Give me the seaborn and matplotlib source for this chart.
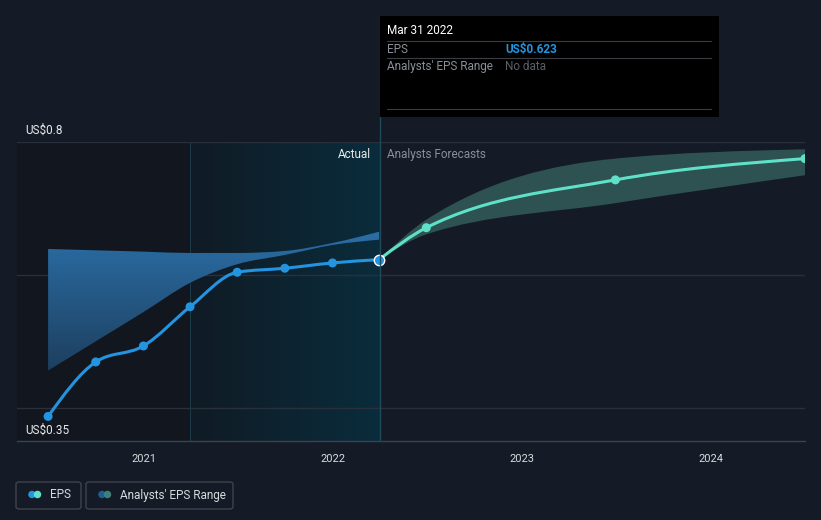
import numpy as np
import pandas as pd
import matplotlib
matplotlib.use("Agg")
import matplotlib.pyplot as plt
import matplotlib.dates as mdates
from matplotlib.patches import Rectangle, FancyBboxPatch, Ellipse, PathPatch
from matplotlib.path import Path
from matplotlib.lines import Line2D
from matplotlib.colors import LinearSegmentedColormap
import seaborn as sns

# ---------------- data ----------------
actual_dates = ["2020-06-30", "2020-09-30", "2020-12-31", "2021-03-31",
                "2021-06-30", "2021-09-30", "2021-12-31", "2022-03-31"]
eps_actual = [0.387, 0.469, 0.493, 0.552, 0.604, 0.610, 0.618, 0.623]
past_range_high = [0.639, 0.637, 0.635, 0.633, 0.633, 0.636, 0.648, 0.665]
past_range_low = [0.456, 0.500, 0.544, 0.588, 0.616, 0.630, 0.645, 0.653]

forecast_dates = ["2022-03-31", "2022-06-30", "2023-06-30", "2024-06-30"]
eps_forecast = [0.623, 0.671, 0.743, 0.775]
forecast_low = [0.623, 0.661, 0.708, 0.750]
forecast_high = [0.623, 0.683, 0.775, 0.789]

y_tick_labels = ["US$0.35", "US$0.8"]
grid_values = [0.4, 0.6, 0.8]
year_ticks = ["2021", "2022", "2023", "2024"]

tooltip_date = "Mar 31 2022"
tooltip_eps = "US$0.623"
tooltip_range = "No data"

# ---------------- style ----------------
BG = "#151b26"
BLUE = "#2394df"
TURQ = "#5fe0c8"
FONT = ["Roboto", "DejaVu Sans"]

sns.set_theme(style="dark")
plt.rcParams["font.family"] = FONT

W, H = 821, 520
fig = plt.figure(figsize=(W / 100, H / 100), dpi=100, facecolor=BG)

def fx(px):
    return px / W

def fy(py):
    return 1 - py / H

ax = fig.add_axes([fx(17), fy(441), fx(805) - fx(17), fy(142) - fy(441)])
ax.set_facecolor(BG)

a_df = pd.DataFrame({"date": pd.to_datetime(actual_dates), "eps": eps_actual,
                     "lo": past_range_low, "hi": past_range_high})
f_df = pd.DataFrame({"date": pd.to_datetime(forecast_dates), "eps": eps_forecast,
                     "lo": forecast_low, "hi": forecast_high})

x_left = pd.Timestamp("2020-05-01")
x_right = pd.Timestamp("2024-06-30")
ymin, ymax = 0.35, 0.8
ax.set_xlim(x_left, x_right)
ax.set_ylim(ymin, ymax)


# monotone cubic (d3 curveMonotoneX style) rendered as Bezier path segments
def _tangents(x, y):
    x = np.asarray(x, float)
    y = np.asarray(y, float)
    n = len(x)
    h = np.diff(x)
    s = np.diff(y) / h
    t = np.zeros(n)
    for i in range(1, n - 1):
        p = (s[i - 1] * h[i] + s[i] * h[i - 1]) / (h[i - 1] + h[i])
        t[i] = (np.sign(s[i - 1]) + np.sign(s[i])) * min(abs(s[i - 1]), abs(s[i]), 0.5 * abs(p))
    if n > 2:
        t[0] = (3 * s[0] - t[1]) / 2
        t[-1] = (3 * s[-1] - t[-2]) / 2
    else:
        t[0] = t[-1] = s[0]
    return t


def bezier_verts(x, y):
    x = np.asarray(x, float)
    y = np.asarray(y, float)
    t = _tangents(x, y)
    verts = [(x[0], y[0])]
    codes = [Path.MOVETO]
    for i in range(len(x) - 1):
        d = (x[i + 1] - x[i]) / 3
        verts += [(x[i] + d, y[i] + t[i] * d), (x[i + 1] - d, y[i + 1] - t[i + 1] * d),
                  (x[i + 1], y[i + 1])]
        codes += [Path.CURVE4] * 3
    return verts, codes


def band_path(x, lo, hi):
    v1, c1 = bezier_verts(x, hi)
    v2, c2 = bezier_verts(x[::-1], lo[::-1])
    verts = v1 + [v2[0]] + v2[1:] + [v1[0]]
    codes = c1 + [Path.LINETO] + c2[1:] + [Path.CLOSEPOLY]
    return Path(verts, codes)


ax_x = mdates.date2num(a_df["date"])
fc_x = mdates.date2num(f_df["date"])

xl = mdates.date2num(x_left)
x_hl0 = mdates.date2num(pd.Timestamp("2021-03-31"))
x_hl1 = mdates.date2num(pd.Timestamp("2022-03-31"))

# darker past region
ax.add_patch(Rectangle((xl, ymin), x_hl0 - xl, ymax - ymin, facecolor="#12161e",
                       edgecolor="none", zorder=0))
# highlighted last-year region with horizontal gradient
grad_h = np.linspace(0, 1, 256).reshape(1, -1)
cm_h = LinearSegmentedColormap.from_list("h", ["#101b25", "#0a2c3c"])
ax.imshow(grad_h, cmap=cm_h, aspect="auto", extent=(x_hl0, x_hl1, ymin, ymax),
          zorder=0.5, interpolation="bicubic")
ax.axvline(x_hl0, color="#1b3a48", lw=0.8, zorder=0.6)

# gridlines
for g in grid_values:
    ax.axhline(g, color="#2a303b", lw=1, zorder=1)

# past analysts range band with vertical gradient
pband = PathPatch(band_path(ax_x, a_df["lo"].values, a_df["hi"].values),
                  facecolor="none", edgecolor="none", transform=ax.transData)
ax.add_patch(pband)
grad_v = np.linspace(0, 1, 256).reshape(-1, 1)
cm_v = LinearSegmentedColormap.from_list("v", ["#1d3f5e", "#2b6ea6"])
im = ax.imshow(grad_v, cmap=cm_v, aspect="auto", origin="lower",
               extent=(ax_x[0], x_hl1, min(past_range_low), max(past_range_high)),
               zorder=2, interpolation="bicubic")
im.set_clip_path(pband)

# forecast band
ax.add_patch(PathPatch(band_path(fc_x, f_df["lo"].values, f_df["hi"].values),
                       facecolor="#2f5654", edgecolor="none", alpha=0.95, zorder=2))

# smooth lines
v, c = bezier_verts(ax_x, a_df["eps"].values)
ax.add_patch(PathPatch(Path(v, c), facecolor="none", edgecolor=BLUE, lw=2.2,
                       capstyle="round", joinstyle="round", zorder=4))
v, c = bezier_verts(fc_x, f_df["eps"].values)
ax.add_patch(PathPatch(Path(v, c), facecolor="none", edgecolor=TURQ, lw=2.2,
                       capstyle="round", joinstyle="round", zorder=4))

# markers
sns.scatterplot(data=a_df, x="date", y="eps", ax=ax, color=BLUE, s=42,
                edgecolor="none", zorder=5)
sns.scatterplot(data=f_df.iloc[1:], x="date", y="eps", ax=ax, color=TURQ, s=42,
                edgecolor="none", zorder=5)
ax.plot(a_df["date"].iloc[-1], a_df["eps"].iloc[-1], "o", color=BLUE,
        markersize=7.5, markeredgecolor="white", markeredgewidth=1, zorder=6)

# axes cosmetics
for s in ["top", "left", "right"]:
    ax.spines[s].set_visible(False)
ax.spines["bottom"].set_color("#3d424b")
ax.spines["bottom"].set_linewidth(1)
ax.set_yticks([])
ax.set_xlabel("")
ax.set_ylabel("")
ax.set_xlim(x_left, x_right)
ax.set_ylim(ymin, ymax)
ax.set_xticks([pd.Timestamp(f"{y}-01-01") for y in year_ticks])
ax.set_xticklabels(year_ticks)
ax.tick_params(axis="x", colors="#3d424b", length=4, width=1, pad=5,
               labelcolor="#d8dadd", labelsize=8)
ax.grid(False)

# y labels
fig.text(fx(25), fy(130), y_tick_labels[1], color="#e8eaed", fontsize=8.5,
         va="center", ha="left")
fig.text(fx(25), fy(430), y_tick_labels[0], color="#e8eaed", fontsize=8.5,
         va="center", ha="left")

# Actual / forecast labels
fig.text(fx(371), fy(154), "Actual", color="#e8eaed", fontsize=8.5, va="center", ha="right")
fig.text(fx(387), fy(154), "Analysts Forecasts", color="#8a8f98", fontsize=8.5,
         va="center", ha="left")

# vertical marker line
fig.add_artist(Line2D([fx(379.5), fx(379.5)], [fy(117), fy(441)], color="#1e4a5a", lw=1))

# tooltip
fig.add_artist(Rectangle((fx(380), fy(117)), fx(719) - fx(380), fy(16) - fy(117),
                         facecolor="black", edgecolor="none", transform=fig.transFigure))
for yy in [41, 58, 109]:
    fig.add_artist(Line2D([fx(387), fx(711)], [fy(yy), fy(yy)], color="#3a3d42", lw=0.8))
fig.text(fx(387), fy(30.5), tooltip_date, color="white", fontsize=8.5, va="center")
fig.text(fx(387), fy(49.5), "EPS", color="#8a8f98", fontsize=8.5, va="center")
fig.text(fx(505), fy(49.5), tooltip_eps, color=BLUE, fontsize=8.5, va="center",
         fontweight="bold")
fig.text(fx(387), fy(66.5), "Analysts' EPS Range", color="#8a8f98", fontsize=8.5, va="center")
fig.text(fx(505), fy(66.5), tooltip_range, color="#5b5f66", fontsize=8.5, va="center")

# legend
def legend_box(x0, x1, c1, c2, label):
    fig.add_artist(FancyBboxPatch((fx(x0), fy(509)), fx(x1) - fx(x0), fy(482) - fy(509),
                                  boxstyle="round,pad=0,rounding_size=0.004",
                                  facecolor="none", edgecolor="#3e434c", lw=1,
                                  transform=fig.transFigure))
    d = 7.5
    fig.add_artist(Ellipse((fx(x0 + 16), fy(494.5)), d / W, d / H, facecolor=c1,
                           edgecolor="none", transform=fig.transFigure))
    fig.add_artist(Ellipse((fx(x0 + 21.5), fy(494.5)), d / W, d / H, facecolor=c2,
                           edgecolor="none", transform=fig.transFigure))
    fig.text(fx(x0 + 34), fy(495), label, color="#d8dadd", fontsize=8.5, va="center")

legend_box(16, 81, BLUE, TURQ, "EPS")
legend_box(86, 233, "#1f5f8f", "#3d7f7a", "Analysts' EPS Range")

fig.savefig("out.png", dpi=100, facecolor=BG)
